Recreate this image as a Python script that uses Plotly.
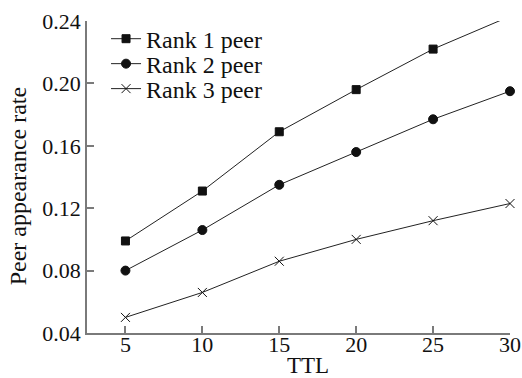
import plotly.graph_objects as go

ttl = [5, 10, 15, 20, 25, 30]
rank1 = [0.099, 0.131, 0.169, 0.196, 0.222, 0.243]
rank2 = [0.080, 0.106, 0.135, 0.156, 0.177, 0.195]
rank3 = [0.050, 0.066, 0.086, 0.100, 0.112, 0.123]
names = ["Rank 1 peer", "Rank 2 peer", "Rank 3 peer"]
symbols = ["square", "circle", "x-thin"]
sizes = [8, 9, 9]
legend_ids = ["legend", "legend2", "legend3"]
legend_y = [0.942, 0.862, 0.782]

FONT = "'Liberation Serif', 'Times New Roman', serif"

fig = go.Figure()
for name, ys, sym, sz, lg in zip(names, [rank1, rank2, rank3], symbols, sizes, legend_ids):
    fig.add_trace(go.Scatter(
        x=ttl, y=ys, name=name, mode="lines+markers", cliponaxis=False,
        legend=lg, showlegend=True,
        line=dict(color="#222222", width=1),
        marker=dict(symbol=sym, size=sz, color="#111111",
                    line=dict(color="#111111", width=1)),
    ))

axis_common = dict(
    showline=True, linecolor="#7a7a7a", linewidth=1.5,
    ticks="inside", ticklen=7, tickcolor="#7a7a7a", tickwidth=1.5,
    showgrid=False, zeroline=False, automargin=False,
    tickfont=dict(family=FONT, size=22, color="#111111"),
)
fig.update_xaxes(range=[2.5, 30], tickvals=ttl, ticklabelstandoff=-9, **axis_common)
fig.update_yaxes(range=[0.04, 0.24], tickvals=[0.04, 0.08, 0.12, 0.16, 0.20, 0.24],
                 tickformat=".2f", **axis_common)
fig.add_annotation(text="TTL", xref="paper", yref="paper", x=0.522, y=0,
                   yshift=-32, height=20, showarrow=False, xanchor="center",
                   yanchor="middle",
                   font=dict(family=FONT, size=23, color="#111111"))
fig.add_annotation(text="Peer appearance rate", xref="paper", yref="paper",
                   x=0, xshift=-69, y=0.47, textangle=-90, showarrow=False,
                   xanchor="center", yanchor="middle",
                   font=dict(family=FONT, size=24, color="#111111"))

legend_common = dict(x=0.045, xanchor="left", yanchor="middle",
                     bgcolor="rgba(0,0,0,0)",
                     font=dict(family=FONT, size=24, color="#111111"),
                     itemwidth=30)
layout_legends = {lg: dict(y=yy, **legend_common) for lg, yy in zip(legend_ids, legend_y)}

fig.update_layout(
    width=522, height=378,
    showlegend=True,
    margin=dict(l=87, r=12, t=21, b=45),
    plot_bgcolor="white", paper_bgcolor="white",
    font=dict(family=FONT, size=22, color="#111111"),
    **layout_legends,
)
fig.write_html("out.html")
